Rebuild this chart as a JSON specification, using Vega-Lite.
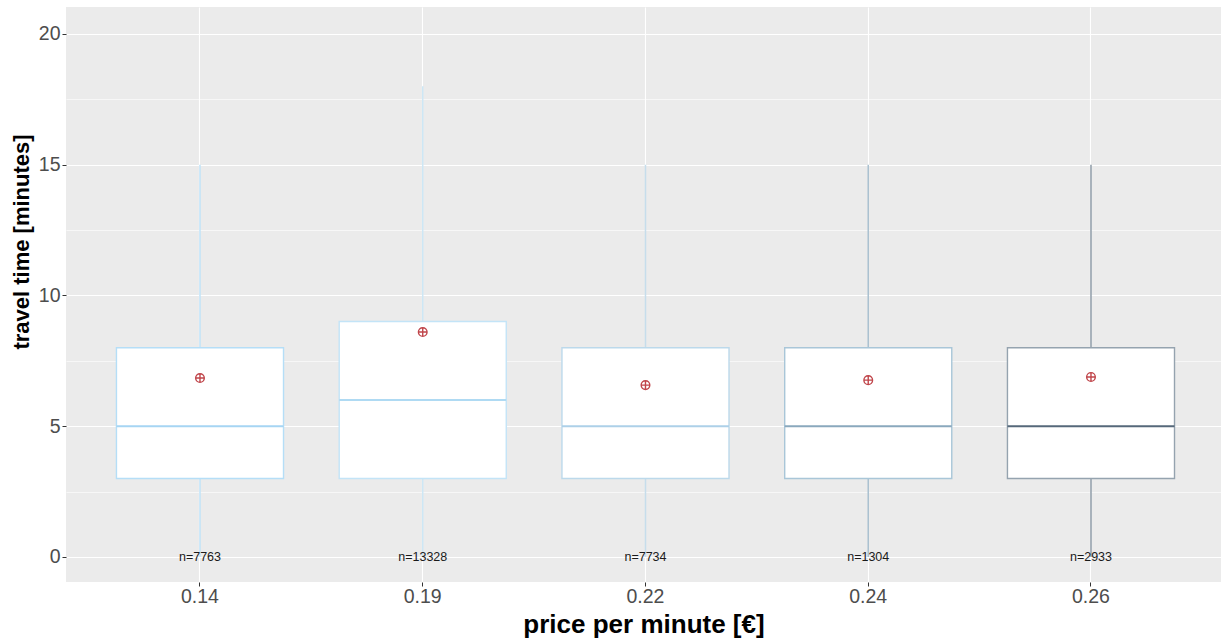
{
  "$schema": "https://vega.github.io/schema/vega-lite/v6.json",
  "autosize": {"type": "none"},
  "width": 1155,
  "height": 575,
  "padding": {"left": 66, "top": 7, "right": 0, "bottom": 59},
  "background": "white",
  "config": {
    "view": {"fill": "#EBEBEB", "stroke": null},
    "font": "Liberation Sans",
    "axis": {
      "domain": false,
      "gridColor": "white",
      "tickColor": "#333333",
      "tickSize": 4,
      "tickWidth": 1,
      "labelColor": "#4D4D4D",
      "labelFont": "Liberation Sans",
      "labelFontSize": 19.5,
      "titleColor": "#000000",
      "titleFont": "Liberation Sans",
      "titleFontWeight": "bold",
      "titleFontSize": 26
    }
  },
  "data": {
    "values": [
      {"price": "0.14", "min": 0, "q1": 3, "median": 5, "q3": 8, "max": 15, "mean": 6.84, "label": "n=7763"},
      {"price": "0.19", "min": 0, "q1": 3, "median": 6, "q3": 9, "max": 18, "mean": 8.60, "label": "n=13328"},
      {"price": "0.22", "min": 0, "q1": 3, "median": 5, "q3": 8, "max": 15, "mean": 6.57, "label": "n=7734"},
      {"price": "0.24", "min": 0, "q1": 3, "median": 5, "q3": 8, "max": 15, "mean": 6.76, "label": "n=1304"},
      {"price": "0.26", "min": 0, "q1": 3, "median": 5, "q3": 8, "max": 15, "mean": 6.88, "label": "n=2933"}
    ]
  },
  "encoding": {
    "x": {
      "field": "price",
      "type": "ordinal",
      "sort": null,
      "scale": {"type": "band", "paddingInner": 0, "paddingOuter": 0.0926, "align": 0.548, "round": false},
      "axis": {
        "title": "price per minute [€]",
        "labelAngle": 0,
        "labelPadding": 1,
        "grid": true,
        "gridWidth": 1.1,
        "bandPosition": 0.5,
        "titleBaseline": "alphabetic",
        "titleY": 50
      }
    }
  },
  "layer": [
    {
      "mark": {"type": "rule", "strokeWidth": 1.5},
      "encoding": {
        "y": {
          "field": "min",
          "type": "quantitative",
          "scale": {"domain": [-0.96, 21.03], "nice": false, "zero": false},
          "axis": {
            "title": "travel time [minutes]",
            "values": [0, 2.5, 5, 7.5, 10, 12.5, 15, 17.5, 20],
            "labelExpr": "datum.value % 5 === 0 ? datum.label : ''",
            "grid": true,
            "gridWidth": {"condition": {"test": "datum.value % 5 === 0", "value": 1.1}, "value": 0.6},
            "tickSize": {"condition": {"test": "datum.value % 5 === 0", "value": 4}, "value": 0},
            "labelPadding": 2,
            "titleFontSize": 22,
            "titleAngle": -90,
            "titleAlign": "center",
            "titleBaseline": "alphabetic",
            "titleX": -38,
            "titleY": 234.5
          }
        },
        "y2": {"field": "max"},
        "color": {
          "field": "price",
          "type": "nominal",
          "legend": null,
          "scale": {"domain": ["0.14", "0.19", "0.22", "0.24", "0.26"], "range": ["#BFE2F7", "#CDE7F5", "#C6DDEB", "#A9C0CF", "#8F9CA8"]}
        }
      }
    },
    {
      "mark": {"type": "bar", "fill": "white", "strokeWidth": 1.4, "width": {"band": 0.75}},
      "encoding": {
        "y": {"field": "q1", "type": "quantitative"},
        "y2": {"field": "q3"},
        "stroke": {
          "field": "price",
          "type": "nominal",
          "legend": null,
          "scale": {"domain": ["0.14", "0.19", "0.22", "0.24", "0.26"], "range": ["#B5DEF7", "#C3E4F7", "#BCD9EB", "#A9C6D8", "#95A3AF"]}
        }
      }
    },
    {
      "mark": {"type": "tick", "thickness": 2, "size": 167, "orient": "horizontal", "opacity": 1},
      "encoding": {
        "y": {"field": "median", "type": "quantitative"},
        "fill": {
          "field": "price",
          "type": "nominal",
          "legend": null,
          "scale": {"domain": ["0.14", "0.19", "0.22", "0.24", "0.26"], "range": ["#A6D5F3", "#AFDAF3", "#ADD0E8", "#8AA8BD", "#56687A"]}
        }
      }
    },
    {
      "mark": {
        "type": "point",
        "shape": "M-1,0A1,1 0 1,1 1,0A1,1 0 1,1 -1,0ZM-1,0L1,0M0,-1L0,1",
        "filled": false,
        "stroke": "#C0464B",
        "strokeWidth": 1.4,
        "size": 75,
        "opacity": 1
      },
      "encoding": {
        "y": {"field": "mean", "type": "quantitative"}
      }
    },
    {
      "mark": {"type": "text", "fontSize": 12.5, "color": "#1A1A1A", "baseline": "middle", "align": "center", "font": "Liberation Sans"},
      "encoding": {
        "y": {"datum": 0, "type": "quantitative"},
        "text": {"field": "label"}
      }
    }
  ]
}
